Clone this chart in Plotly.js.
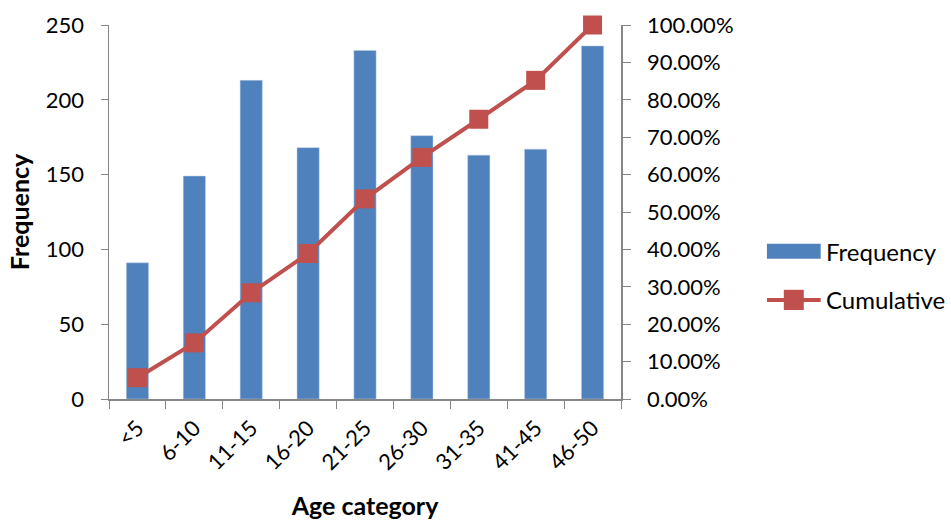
<!DOCTYPE html>
<html>
<head>
<meta charset="utf-8">
<script src="https://cdn.plot.ly/plotly-3.0.1.min.js"></script>
<style>html,body{margin:0;padding:0;background:#fff}#chart{width:951px;height:520px}</style>
</head>
<body>
<div id="chart"></div>
<script>
const categories = ['<5', '6-10', '11-15', '16-20', '21-25', '26-30', '31-35', '41-45', '46-50'];
const frequency = [91, 149, 213, 168, 233, 176, 163, 167, 236];
const cumulative = [0.057, 0.150, 0.284, 0.389, 0.535, 0.646, 0.748, 0.852, 1.000];
const seriesNames = ['Frequency', 'Cumulative'];

const FONT = 'Lato, "Open Sans", sans-serif';
const AXIS = '#868686';
const BLUE = '#4F81BD';
const RED = '#C0504D';

const traces = [
  {
    type: 'bar', name: seriesNames[0], x: categories, y: frequency,
    marker: {color: BLUE, line: {color: '#B9CDE5', width: 0.5}},
    yaxis: 'y'
  },
  {
    type: 'scatter', mode: 'lines+markers', name: seriesNames[1], x: categories, y: cumulative,
    line: {color: RED, width: 4},
    marker: {symbol: 'square', size: 19, color: RED},
    cliponaxis: false,
    yaxis: 'y2'
  }
];

// custom legend (paper coords) to mimic the Excel legend keys
const lx0 = 1.285, lx1 = 1.39, ltx = 1.397;
const shapes = [
  {type: 'rect', xref: 'paper', yref: 'paper', x0: lx0, x1: lx1, y0: 0.375, y1: 0.415,
   fillcolor: BLUE, line: {width: 0}},
  {type: 'line', xref: 'paper', yref: 'paper', x0: lx0, x1: lx1, y0: 0.265, y1: 0.265,
   line: {color: RED, width: 4}},
  {type: 'rect', xref: 'paper', yref: 'paper', x0: 1.318, x1: 1.357, y0: 0.238, y1: 0.292,
   fillcolor: RED, line: {width: 0}}
];
const annotations = [
  {xref: 'paper', yref: 'paper', x: ltx, y: 0.395, text: seriesNames[0], showarrow: false,
   xanchor: 'left', yanchor: 'middle', font: {size: 24}},
  {xref: 'paper', yref: 'paper', x: ltx, y: 0.265, text: seriesNames[1], showarrow: false,
   xanchor: 'left', yanchor: 'middle', font: {size: 24}}
];

const layout = {
  width: 951, height: 520,
  margin: {l: 109, r: 330, t: 25, b: 121},
  paper_bgcolor: '#fff', plot_bgcolor: '#fff',
  font: {family: FONT, size: 22, color: '#000'},
  bargap: 0.61,
  showlegend: false,
  shapes: shapes,
  annotations: annotations,
  xaxis: {
    type: 'category', range: [-0.5, 8.5], showline: true, linecolor: AXIS, linewidth: 1.5,
    ticks: 'outside', ticklen: 8, tickcolor: AXIS, tickson: 'boundaries',
    tickangle: -45, showgrid: false, automargin: false, ticklabelstandoff: 6,
    title: {text: '<b>Age category</b>', font: {size: 25}, standoff: 28}
  },
  yaxis: {
    range: [0, 250], dtick: 50, showline: true, linecolor: AXIS, linewidth: 1.5,
    ticks: 'outside', ticklen: 7, tickcolor: AXIS, showgrid: false, zeroline: false,
    automargin: false, ticklabelstandoff: 12,
    title: {text: '<b>Frequency</b>', font: {size: 25}, standoff: 9}
  },
  yaxis2: {
    range: [0, 1], dtick: 0.1, tickformat: '.2%', overlaying: 'y', side: 'right',
    showline: true, linecolor: AXIS, linewidth: 1.5,
    ticks: 'outside', ticklen: 8, tickcolor: AXIS, showgrid: false, zeroline: false,
    automargin: false, ticklabelstandoff: 12
  }
};

Plotly.newPlot('chart', traces, layout, {displayModeBar: false, staticPlot: true});
</script>
</body>
</html>
